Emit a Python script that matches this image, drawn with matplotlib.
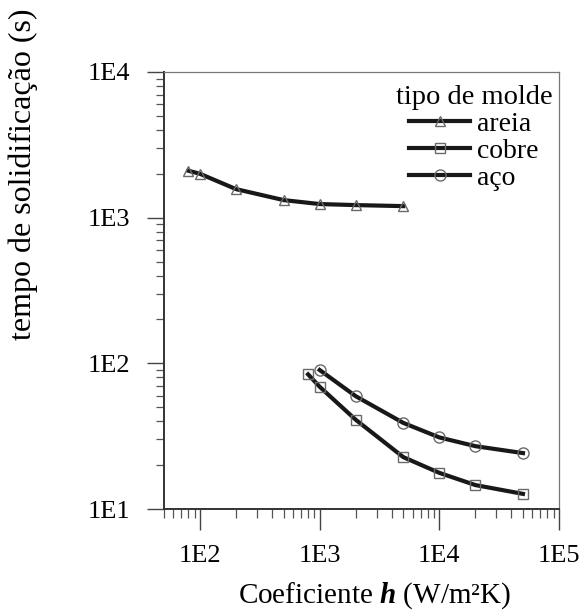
import numpy as np
import matplotlib
matplotlib.use("Agg")
import matplotlib.pyplot as plt
from matplotlib.ticker import LogLocator, FuncFormatter, NullFormatter

plt.rcParams['font.family'] = ['Liberation Serif', 'DejaVu Serif']
plt.rcParams['mathtext.fontset'] = 'custom'
plt.rcParams['mathtext.rm'] = 'Liberation Serif'
plt.rcParams['mathtext.it'] = 'Liberation Serif:italic'
plt.rcParams['mathtext.bf'] = 'Liberation Serif:bold'
plt.rcParams['mathtext.bfit'] = 'Liberation Serif:italic:bold'

# Data
areia_h = [80, 100, 200, 500, 1000, 2000, 5000]
areia_t = [2100, 2000, 1570, 1320, 1240, 1220, 1200]

cobre_h = [800, 1000, 2000, 5000, 10000, 20000, 50000]
cobre_t = [84, 69, 41, 22.7, 17.7, 14.6, 12.7]

aco_h = [1000, 2000, 5000, 10000, 20000, 50000]
aco_t = [90, 59.5, 39, 31, 27, 24.2]

series_labels = ["areia", "cobre", "aço"]
legend_title = "tipo de molde"
xlabel = "Coeficiente $\\mathbfit{h}$ (W/m²K)"
ylabel = "tempo de solidificação (s)"

fig = plt.figure(figsize=(5.88, 6.15), dpi=100)
ax = fig.add_axes([164/588, 1-509/615, (559-164)/588, (509-72)/615])

line_kw = dict(color='#181818', lw=3.0, markerfacecolor='none',
               markeredgecolor='#6a6a6a', markeredgewidth=1.0)
ax.plot(areia_h, areia_t, marker='^', markersize=6.5, label=series_labels[0], **line_kw)
ax.plot(cobre_h, cobre_t, marker='s', markersize=7.5, label=series_labels[1], **line_kw)
ax.plot(aco_h, aco_t, marker='o', markersize=8, label=series_labels[2], **line_kw)

ax.set_xscale('log')
ax.set_yscale('log')
ax.set_xlim(50, 1e5)
ax.set_ylim(10, 1e4)

fmt = FuncFormatter(lambda v, p: "1E%d" % int(round(np.log10(v))))
for axis in (ax.xaxis, ax.yaxis):
    axis.set_major_locator(LogLocator(base=10, numticks=10))
    axis.set_minor_locator(LogLocator(base=10, subs=np.arange(2, 10), numticks=20))
    axis.set_major_formatter(fmt)
    axis.set_minor_formatter(NullFormatter())

ax.tick_params(axis='x', which='major', direction='out', length=15, width=1.0,
               labelsize=19, pad=11, color='#444444')
ax.tick_params(axis='x', which='minor', direction='out', length=6.5, width=0.9, color='#555555')
ax.tick_params(axis='y', which='major', direction='out', length=12, width=1.0,
               labelsize=19, pad=12, color='#444444')
ax.tick_params(axis='y', which='minor', direction='out', length=6, width=0.9, color='#555555')

for s in ['left', 'bottom']:
    ax.spines[s].set_linewidth(1.4)
    ax.spines[s].set_color('#333333')
for s in ['top', 'right']:
    ax.spines[s].set_linewidth(0.9)
    ax.spines[s].set_color('#777777')

ax.set_xlabel(xlabel, fontsize=21, va='top')
ax.xaxis.set_label_coords(0.534, -0.163)
ax.set_ylabel(ylabel, fontsize=23)
ax.yaxis.set_label_coords(-0.318, 0.767)

leg = ax.legend(title=legend_title, loc='upper right', bbox_to_anchor=(0.99, 0.976),
                frameon=False, fontsize=20, title_fontsize=20.5, handlelength=2.2,
                handletextpad=0.25, labelspacing=0.05, borderpad=0.0, borderaxespad=0.1)

fig.savefig("out.png", dpi=100)
